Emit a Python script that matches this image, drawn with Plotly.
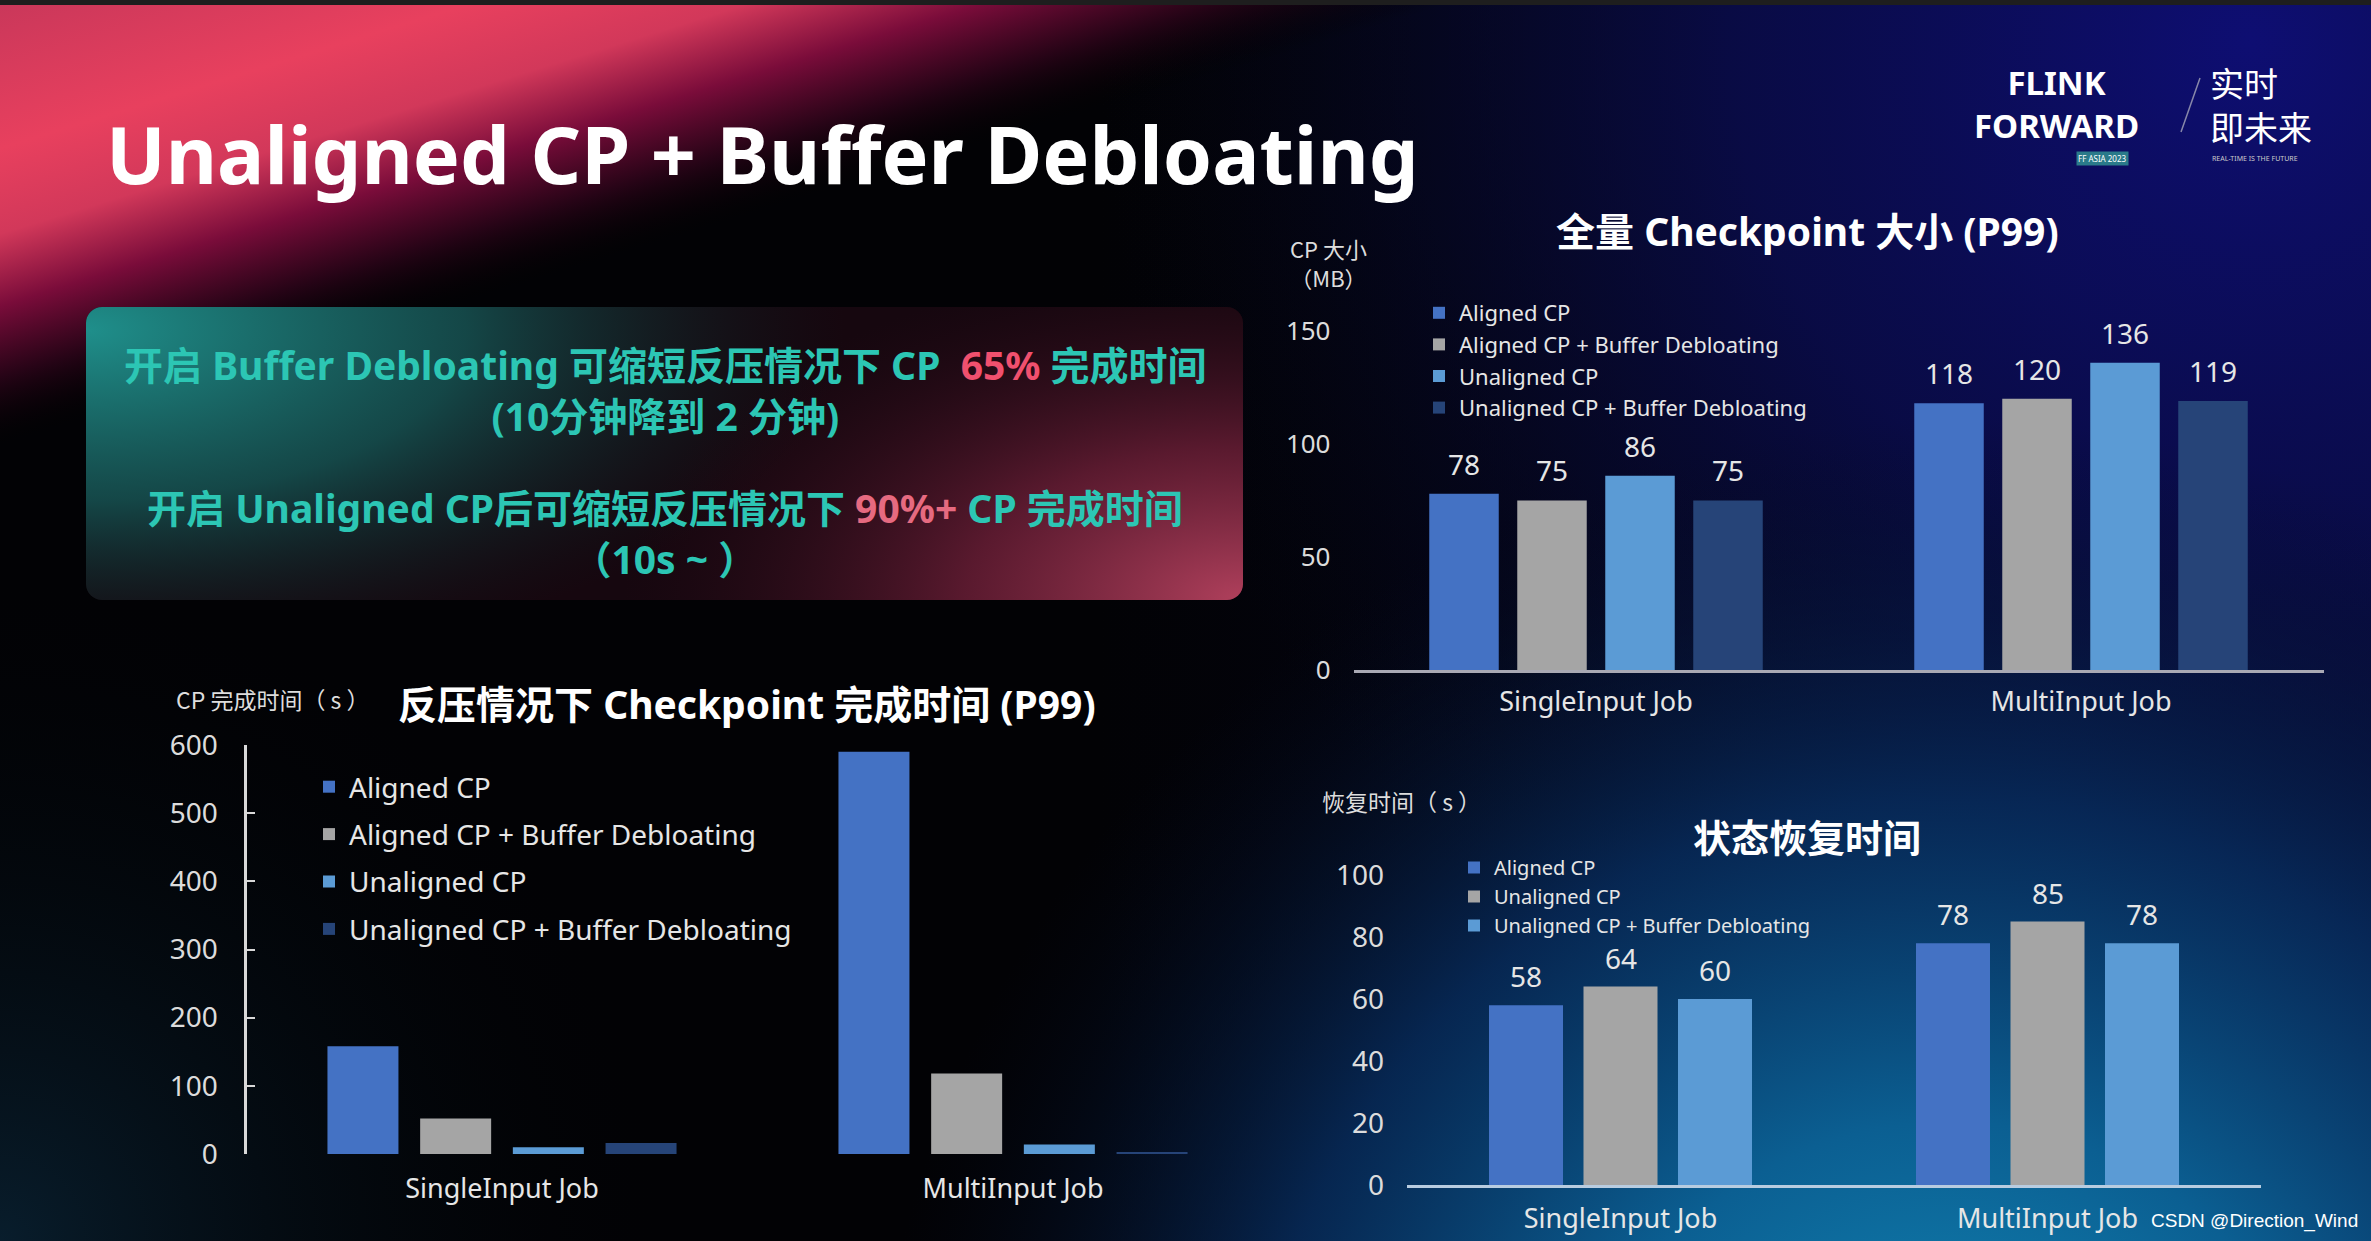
import base64
import plotly.graph_objects as go

W, H = 2371, 1241

# ---------------- data ----------------
jobs = ["SingleInput Job", "MultiInput Job"]

cp_time_series = ["Aligned CP", "Aligned CP + Buffer Debloating", "Unaligned CP",
                  "Unaligned CP + Buffer Debloating"]
cp_time_aligned = [158, 590]
cp_time_aligned_bd = [52, 118]
cp_time_unaligned = [10, 14]
cp_time_unaligned_bd = [16, 3]
cp_time_ticks = [0, 100, 200, 300, 400, 500, 600]

cp_size_series = ["Aligned CP", "Aligned CP + Buffer Debloating", "Unaligned CP",
                  "Unaligned CP + Buffer Debloating"]
cp_size_aligned = [78, 118]
cp_size_aligned_bd = [75, 120]
cp_size_unaligned = [86, 136]
cp_size_unaligned_bd = [75, 119]
cp_size_ticks = [0, 50, 100, 150]

restore_series = ["Aligned CP", "Unaligned CP", "Unaligned CP + Buffer Debloating"]
restore_aligned = [58, 78]
restore_unaligned = [64, 85]
restore_unaligned_bd = [60, 78]
restore_ticks = [0, 20, 40, 60, 80, 100]

# ---------------- style ----------------
FONT = "Noto Sans, Noto Sans CJK SC, sans-serif"
CJK = "Noto Sans CJK SC, Noto Sans, sans-serif"
C_ALIGNED = "#4472C4"
C_GRAY = "#A5A5A5"
C_UNAL = "#5B9BD5"
C_DARK = "#264478"
TXT = "#e6e6e6"
TEAL = "#2cc6b4"


def px(x):
    return x / W


def py(y):
    return 1 - y / H


# ---------------- background (decorative svg) ----------------
d = 430
svg = f'''<svg xmlns="http://www.w3.org/2000/svg" width="{W}" height="{H}" viewBox="0 0 {W} {H}">
<defs>
<linearGradient id="pk" gradientUnits="userSpaceOnUse" x1="0" y1="0" x2="{0.294*d:.1f}" y2="{0.956*d:.1f}">
<stop offset="0" stop-color="#c9375a"/>
<stop offset="0.33" stop-color="#e8405e"/>
<stop offset="0.52" stop-color="#d2385a"/>
<stop offset="0.68" stop-color="#7a0c3a"/>
<stop offset="0.84" stop-color="#2a0418" stop-opacity="0.9"/>
<stop offset="1" stop-color="#000000" stop-opacity="0"/>
</linearGradient>
<radialGradient id="nv" gradientUnits="userSpaceOnUse" cx="2250" cy="40" r="1150">
<stop offset="0" stop-color="#0e0e72"/>
<stop offset="0.45" stop-color="#0a0c4c" stop-opacity="0.85"/>
<stop offset="1" stop-color="#050818" stop-opacity="0"/>
</radialGradient>
<linearGradient id="rt" gradientUnits="userSpaceOnUse" x1="1100" y1="0" x2="2371" y2="0">
<stop offset="0" stop-color="#06082a" stop-opacity="0"/>
<stop offset="1" stop-color="#07093a" stop-opacity="0.9"/>
</linearGradient>
<radialGradient id="tl" gradientUnits="userSpaceOnUse" cx="1950" cy="1500" r="1080">
<stop offset="0" stop-color="#1390bd"/>
<stop offset="0.35" stop-color="#0b5f92"/>
<stop offset="0.65" stop-color="#072c5c" stop-opacity="0.85"/>
<stop offset="1" stop-color="#040a20" stop-opacity="0"/>
</radialGradient>
<radialGradient id="bl" gradientUnits="userSpaceOnUse" cx="0" cy="1241" r="700">
<stop offset="0" stop-color="#0a2436" stop-opacity="0.8"/>
<stop offset="1" stop-color="#000000" stop-opacity="0"/>
</radialGradient>
<radialGradient id="bt" gradientUnits="userSpaceOnUse" cx="86" cy="330" r="760"
 gradientTransform="translate(86 330) scale(1 0.45) translate(-86 -330)">
<stop offset="0" stop-color="#1f8f8b"/>
<stop offset="0.5" stop-color="#145251" stop-opacity="0.85"/>
<stop offset="1" stop-color="#0c1c1e" stop-opacity="0"/>
</radialGradient>
<radialGradient id="bp" gradientUnits="userSpaceOnUse" cx="1243" cy="600" r="620"
 gradientTransform="translate(1243 600) scale(1 0.55) translate(-1243 -600)">
<stop offset="0" stop-color="#b0405c"/>
<stop offset="0.45" stop-color="#6a1e36" stop-opacity="0.8"/>
<stop offset="1" stop-color="#2a0a18" stop-opacity="0"/>
</radialGradient>
<clipPath id="bc"><rect x="86" y="307" width="1157" height="293" rx="16"/></clipPath>
</defs>
<rect width="{W}" height="{H}" fill="#020205"/>
<rect width="{W}" height="{H}" fill="url(#rt)"/>
<rect width="{W}" height="{H}" fill="url(#nv)"/>
<rect width="{W}" height="{H}" fill="url(#tl)"/>
<rect width="{W}" height="{H}" fill="url(#bl)"/>
<rect width="{W}" height="{H}" fill="url(#pk)"/>
<rect width="{W}" height="5" fill="#1e1e1e"/>
<g clip-path="url(#bc)">
<rect x="86" y="307" width="1157" height="293" fill="#16070f"/>
<rect x="86" y="307" width="1157" height="293" fill="url(#bt)"/>
<rect x="86" y="307" width="1157" height="293" fill="url(#bp)"/>
</g>
</svg>'''
bg_src = "data:image/svg+xml;base64," + base64.b64encode(svg.encode()).decode()

fig = go.Figure()
ann = []


def add_group(names, series, colors, xa, ya, legend, w, s, label_shift, grp):
    n = len(series)
    for i, (name, vals, col) in enumerate(zip(names, series, colors)):
        off = (i - (n - 1) / 2) * s - w / 2
        fig.add_trace(go.Bar(
            x=jobs, y=vals, name=name, marker=dict(color=col, line=dict(width=0)),
            width=w, offset=off, xaxis=xa, yaxis=ya, legend=legend,
            legendgroup=f"{grp}{i}", hoverinfo="skip"))
        if label_shift is not None:
            for k, v in enumerate(vals):
                ann.append(dict(text=str(v), x=k + off + w / 2, y=v, xref=xa, yref=ya,
                                xanchor="center", yanchor="middle", yshift=label_shift,
                                showarrow=False,
                                font=dict(family=FONT, size=28, color=TXT)))


add_group(cp_time_series,
          [cp_time_aligned, cp_time_aligned_bd, cp_time_unaligned, cp_time_unaligned_bd],
          [C_ALIGNED, C_GRAY, C_UNAL, C_DARK], "x", "y", "legend",
          71 / 511, 92.7 / 511, None, "a")
add_group(cp_size_series,
          [cp_size_aligned, cp_size_aligned_bd, cp_size_unaligned, cp_size_unaligned_bd],
          [C_ALIGNED, C_GRAY, C_UNAL, C_DARK], "x2", "y2", "legend2",
          69.5 / 485, 88 / 485, 30, "b")
add_group(restore_series,
          [restore_aligned, restore_unaligned, restore_unaligned_bd],
          [C_ALIGNED, C_GRAY, C_UNAL], "x3", "y3", "legend3",
          74 / 427, 94.5 / 427, 29, "c")

xcommon = dict(type="category", range=[-0.5, 1.5], showgrid=False, zeroline=False,
               ticks="", tickfont=dict(family=FONT, size=27, color=TXT), fixedrange=True,
               automargin=False)
ycommon = dict(showgrid=False, zeroline=False, fixedrange=True, automargin=False,
               tickfont=dict(family=FONT, size=28, color="#dcdcdc"))

fig.update_layout(
    width=W, height=H, autosize=False,
    margin=dict(l=0, r=0, t=0, b=0, pad=0),
    paper_bgcolor="#020205", plot_bgcolor="rgba(0,0,0,0)",
    barmode="overlay", showlegend=True,
    images=[dict(source=bg_src, xref="paper", yref="paper", x=0, y=1, sizex=1, sizey=1,
                 xanchor="left", yanchor="top", sizing="stretch", layer="below")],
    xaxis=dict(xcommon, domain=[px(246.5), px(1268.5)], anchor="y", showline=False,
               ticklabelstandoff=16),
    yaxis=dict(ycommon, domain=[py(1154), py(745)], anchor="x", range=[0, 600],
               tickvals=cp_time_ticks, showline=True, linecolor="#d9d9d9", linewidth=3,
               ticks="inside", ticklen=8, tickwidth=2, tickcolor="#d9d9d9",
               ticklabelstandoff=20),
    xaxis2=dict(xcommon, domain=[px(1353.5), px(2323.5)], anchor="y2", showline=True,
                linecolor="#a9a9b4", linewidth=3, ticklabelstandoff=6),
    yaxis2=dict(ycommon, domain=[py(670), py(331)], anchor="x2", range=[0, 150],
                tickvals=cp_size_ticks, showline=False, ticks="", ticklabelstandoff=22,
                tickfont=dict(family=FONT, size=26, color="#dcdcdc")),
    xaxis3=dict(xcommon, domain=[px(1407), px(2261)], anchor="y3", showline=True,
                linecolor="#b8cce0", linewidth=3, ticklabelstandoff=8),
    yaxis3=dict(ycommon, domain=[py(1185), py(875)], anchor="x3", range=[0, 100],
                tickvals=restore_ticks, showline=False, ticks="", ticklabelstandoff=22),
    legend=dict(x=px(309), y=py(762), xanchor="left", yanchor="top",
                bgcolor="rgba(0,0,0,0)", font=dict(family=FONT, size=28, color=TXT),
                tracegroupgap=8, itemclick=False, itemdoubleclick=False),
    legend2=dict(x=px(1419), y=py(292), xanchor="left", yanchor="top",
                 bgcolor="rgba(0,0,0,0)", font=dict(family=FONT, size=22, color=TXT),
                 tracegroupgap=0, itemclick=False, itemdoubleclick=False),
    legend3=dict(x=px(1454), y=py(848), xanchor="left", yanchor="top",
                 bgcolor="rgba(0,0,0,0)", font=dict(family=FONT, size=20, color=TXT),
                 tracegroupgap=0, itemclick=False, itemdoubleclick=False),
)


def A(text, x, y, size, color="#ffffff", xanchor="center", bold=False, family=FONT, **kw):
    ann.append(dict(text=text, x=px(x), y=py(y), xref="paper", yref="paper",
                    xanchor=xanchor, yanchor="middle", showarrow=False,
                    font=dict(family=family, size=size, color=color,
                              weight="bold" if bold else "normal"), **kw))


# main title
A("Unaligned CP + Buffer Debloating", 104, 153, 79, xanchor="left", bold=True)

# text box
RED1 = "#f0506e"
RED2 = "#e66a80"
A(f"开启 Buffer Debloating 可缩短反压情况下 CP  <span style='color:{RED1}'>65%</span> 完成时间"
  "<br>(10分钟降到 2 分钟)", 665, 390, 39, color=TEAL, bold=True, align="center")
A(f"开启 Unaligned CP后可缩短反压情况下 <span style='color:{RED2}'>90%+</span> CP 完成时间"
  "<br>（10s ~ ）", 665, 533, 39, color=TEAL, bold=True, align="center")

# chart titles / axis labels
A("CP 完成时间（ s ）", 174, 699, 23, color="#dddddd", xanchor="left", family=CJK)
A("反压情况下 Checkpoint 完成时间 (P99)", 396, 703, 39, xanchor="left", bold=True)
A("CP 大小<br>（MB）", 1328, 263, 22, color="#dddddd", family=CJK)
A("全量 Checkpoint 大小 (P99)", 1807, 231, 39, bold=True)
A("恢复时间（ s ）", 1320, 801, 23, color="#dddddd", xanchor="left", family=CJK)
A("状态恢复时间", 1807, 835, 38, bold=True, family=CJK)

# logo
A("FLINK<br>FORWARD", 2056, 104, 33, bold=True, align="center")
A("实时<br>即未来", 2208, 104, 34, xanchor="left", family=CJK, align="left")
A("REAL-TIME IS THE FUTURE", 2210, 158, 7, xanchor="left", color="#cccccc")
A("FF ASIA 2023", 2076, 158, 8, xanchor="left", color="#ffffff", bgcolor="#2a7a8a")

# csdn watermark
A("CSDN @Direction_Wind", 2360, 1221, 19, xanchor="right", color="#ffffff",
  family="Liberation Sans, Arial, sans-serif")

fig.update_layout(annotations=ann)
fig.add_shape(type="line", xref="paper", yref="paper", x0=px(2200), y0=py(78),
              x1=px(2181), y1=py(132), line=dict(color="#8888aa", width=1.5))

fig.write_html("out.html", config={"displayModeBar": False},
               post_script="document.body.style.margin='0';"
                           "document.body.style.overflow='hidden';")
